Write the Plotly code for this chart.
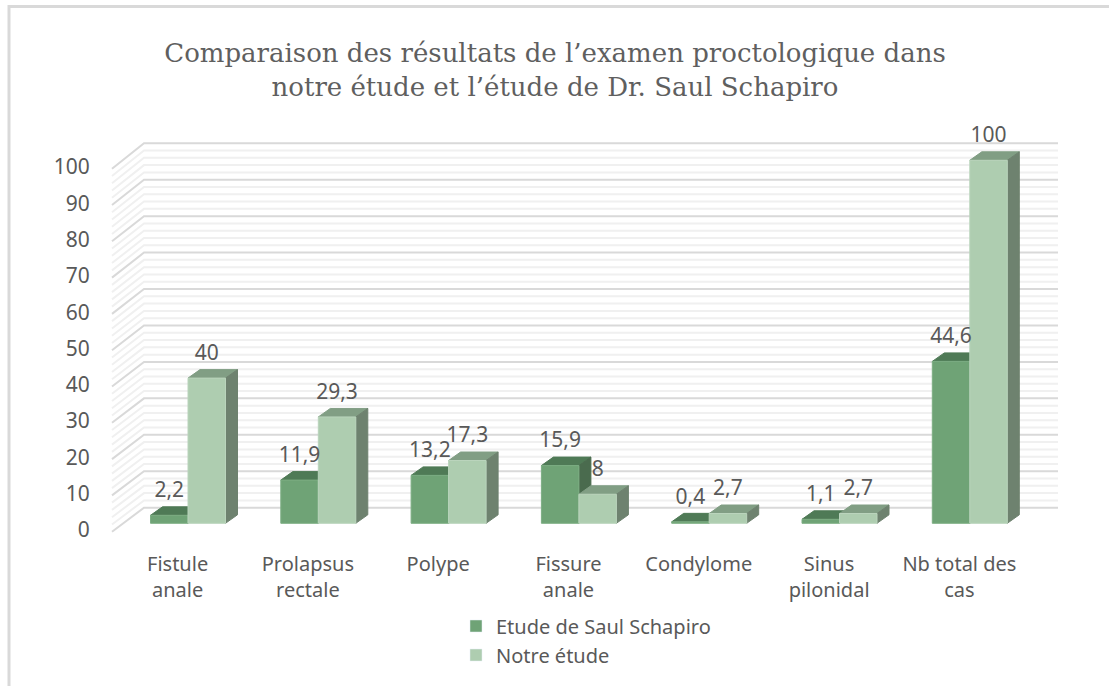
import plotly.graph_objects as go

categories = ["Fistule<br>anale", "Prolapsus<br>rectale", "Polype", "Fissure<br>anale",
              "Condylome", "Sinus<br>pilonidal", "Nb total des<br>cas"]
saul = [2.2, 11.9, 13.2, 15.9, 0.4, 1.1, 44.6]
notre = [40, 29.3, 17.3, 8, 2.7, 2.7, 100]
y_ticks = [0, 10, 20, 30, 40, 50, 60, 70, 80, 90, 100]
minor_ticks = [v for v in range(0, 101, 2) if v % 10]
title = "Comparaison des résultats de l’examen proctologique dans<br>notre étude et l’étude de Dr. Saul Schapiro"

W, H = 1109, 686
L, R, T, B = 100, 1080, 120, 540
X0, XS = 188.0, 130.3   # pixel of x=0, px per category
Y0, YS = 523.3, 3.63    # pixel of y=0, px per unit
dx, dy = 12 / XS, 8.5 / YS
w = 37.5 / XS
GRAY = "#595959"
FONT = "Noto Sans"

px2x = lambda p: (p - X0) / XS
px2y = lambda p: (Y0 - p) / YS


def grid(vals):
    xs, ys = [], []
    for v in vals:
        front = px2y(531.7) + v
        back = px2y(507.7) + v * 1.004
        xs += [px2x(112), px2x(144), px2x(1058), None]
        ys += [front, back, back, None]
    return xs, ys


def faces(vals, left):
    top_x, top_y, side_x, side_y, fr_x, fr_y = [], [], [], [], [], []
    for k, v in enumerate(vals):
        a, b = k + left, k + left + w
        top_x += [a, b, b + dx, a + dx, a, None]
        top_y += [v, v, v + dy, v + dy, v, None]
        side_x += [b, b + dx, b + dx, b, b, None]
        side_y += [0, dy, v + dy, v, 0, None]
        fr_x += [a, b, b, a, a, None]
        fr_y += [0, 0, v, v, 0, None]
    return (top_x, top_y), (side_x, side_y), (fr_x, fr_y)


def poly(xy, color, line=None):
    return go.Scatter(x=xy[0], y=xy[1], mode="lines", fill="toself", fillcolor=color,
                      line=dict(color=line or color, width=1), showlegend=False, hoverinfo="skip")


fig = go.Figure()
for vals_, col, wd in [(minor_ticks, "#F0F0F0", 2), (y_ticks, "#D9D9D9", 2)]:
    gx, gy = grid(vals_)
    fig.add_trace(go.Scatter(x=gx, y=gy, mode="lines", line=dict(color=col, width=wd),
                             showlegend=False, hoverinfo="skip"))

series = [("Etude de Saul Schapiro", saul, -w, "#6FA376", "#4F7A56", "#4A6B4E", "#7DAE84"),
          ("Notre étude", notre, 0.0, "#AECDB0", "#819E84", "#6E826F", "#BAD4BC")]
for name, vals, left, front, top, side, edge in series:
    t, s, f = faces(vals, left)
    fig.add_trace(poly(t, top))
    fig.add_trace(poly(s, side))
    fig.add_trace(poly(f, front, edge))

for name, vals, left, front, top, side, edge in series:
    fig.add_trace(go.Scatter(
        x=[k + left + w / 2 for k in range(len(vals))],
        y=[v + 23.5 / YS for v in vals],
        mode="text", text=[str(v).replace(".", ",") for v in vals],
        textposition="middle center", textfont=dict(family=FONT, size=21, color=GRAY),
        showlegend=False, hoverinfo="skip"))
    fig.add_trace(go.Bar(x=[None], y=[None], name=name, marker_color=front))

fig.update_layout(
    width=W, height=H, autosize=False,
    margin=dict(l=L, r=W - R, t=T, b=H - B, autoexpand=False),
    paper_bgcolor="white", plot_bgcolor="white",
    title=dict(text=title, x=555 / W, xanchor="center", y=1 - 62 / H, yanchor="middle",
               font=dict(family="DejaVu Serif", size=26, color="#5F5F5F")),
    xaxis=dict(range=[px2x(L), px2x(R)], tickmode="array",
               tickvals=[k - 0.08 for k in range(len(categories))], ticktext=categories,
               showgrid=False, zeroline=False, showline=False, ticks="outside", ticklen=6,
               tickcolor="rgba(0,0,0,0)", tickfont=dict(family=FONT, size=20, color=GRAY)),
    yaxis=dict(range=[px2y(B), px2y(T)], tickmode="array",
               tickvals=[v - 1.85 for v in y_ticks], ticktext=[str(v) for v in y_ticks],
               showgrid=False, zeroline=False, showline=False, ticks="outside", ticklen=5,
               tickcolor="rgba(0,0,0,0)", tickfont=dict(family=FONT, size=21, color=GRAY)),
    legend=dict(x=(456 - L) / (R - L), xanchor="left", y=(B - 606.5) / (B - T), yanchor="top",
                font=dict(family=FONT, size=20, color=GRAY), bgcolor="rgba(0,0,0,0)",
                traceorder="normal"),
    showlegend=True,
    shapes=[dict(type="line", xref="paper", yref="paper",
                 x0=(8 - L) / (R - L), x1=(W - L) / (R - L), y0=(B - 6.5) / (B - T), y1=(B - 6.5) / (B - T),
                 line=dict(color="#D9D9D9", width=3)),
            dict(type="line", xref="paper", yref="paper",
                 x0=(9 - L) / (R - L), x1=(9 - L) / (R - L), y0=(B - 5) / (B - T), y1=(B - H) / (B - T),
                 line=dict(color="#D9D9D9", width=3))],
)
fig.write_html("out.html", post_script="document.body.style.margin='0';",
               config={"displayModeBar": False})
